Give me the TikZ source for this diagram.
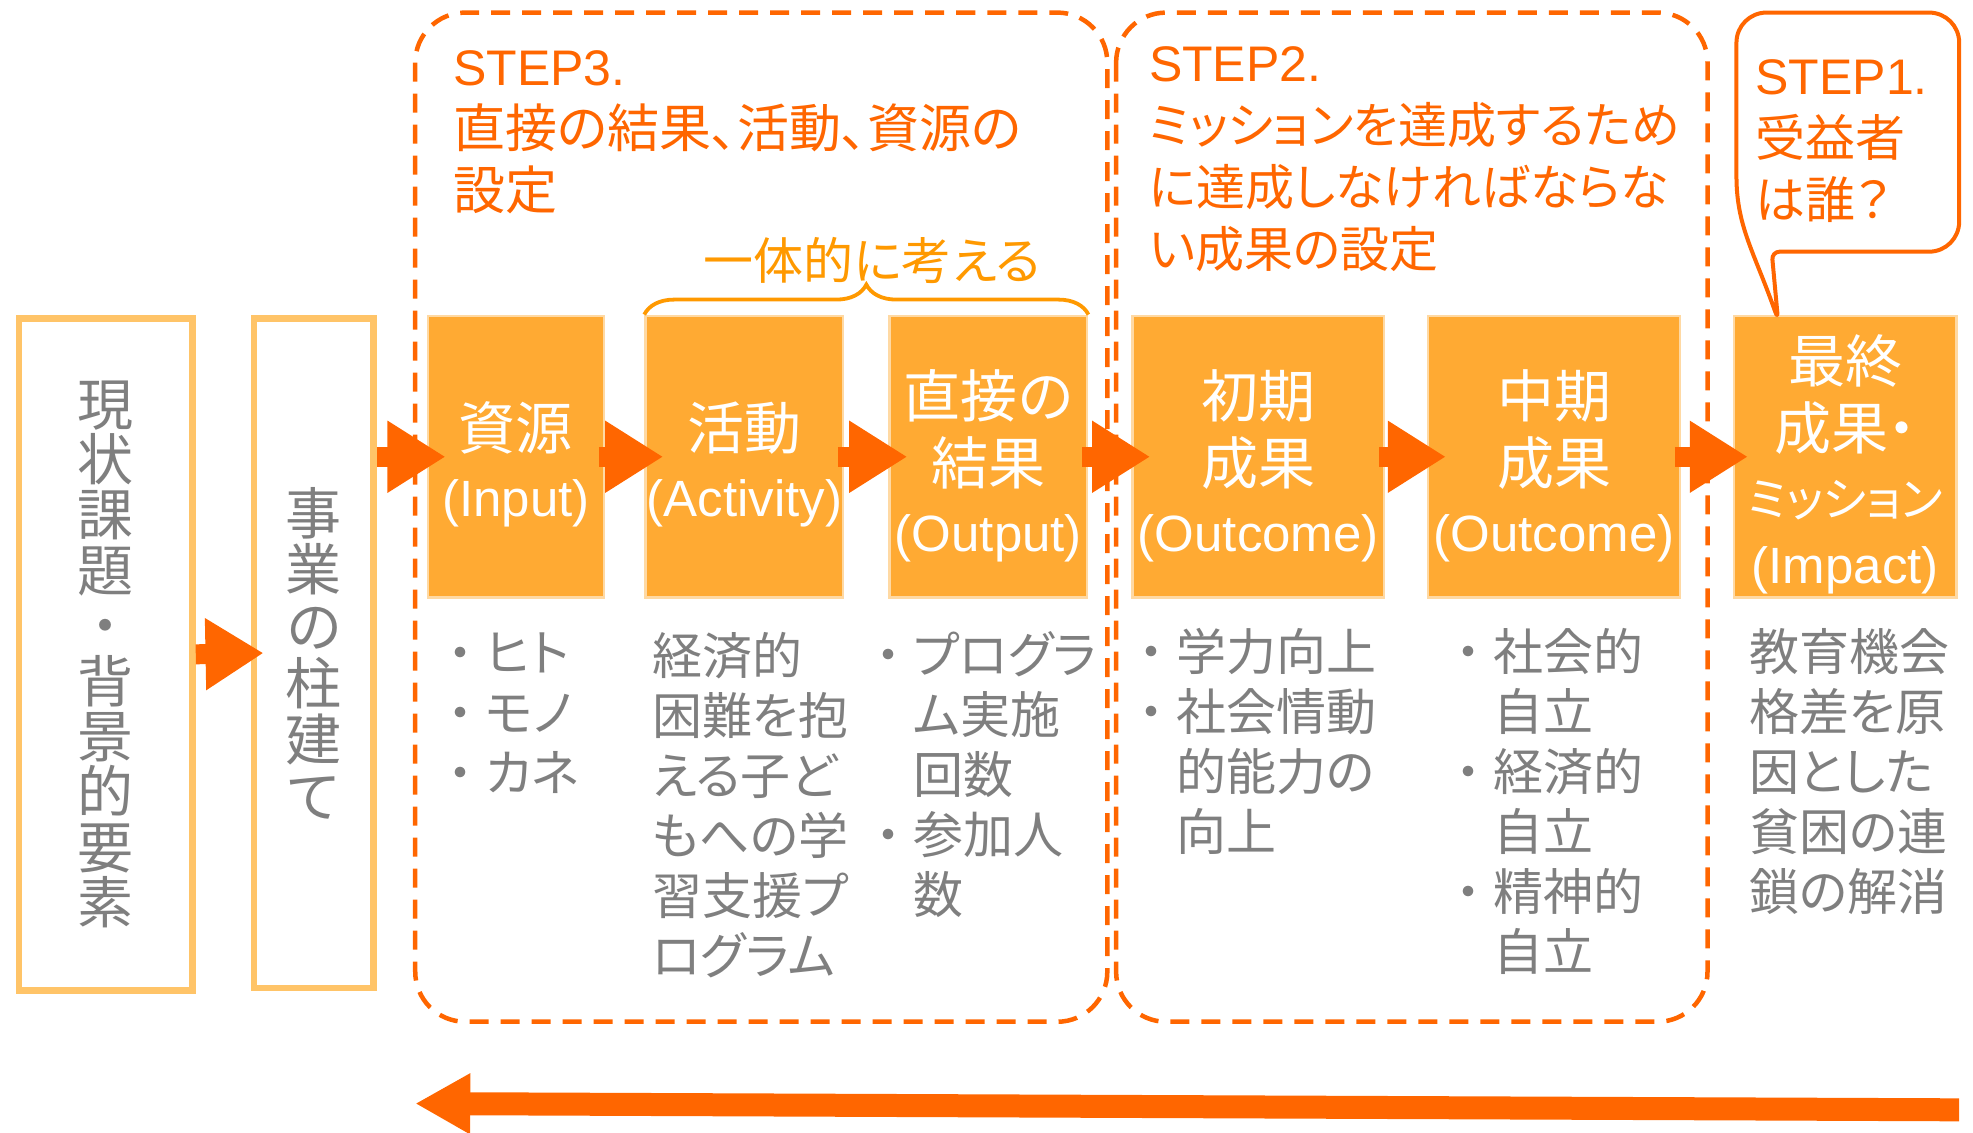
\documentclass[tikz,border=0pt]{standalone}
\usepackage{fontspec}
\setmainfont{Liberation Sans}
\newfontfamily\jp[RawFeature=+palt]{Noto Sans CJK JP}
\usetikzlibrary{arrows.meta,calc,fit,decorations.pathreplacing}
\definecolor{dor}{HTML}{FF6600}
\definecolor{lor}{HTML}{FF9900}
\definecolor{bfill}{HTML}{FFAA33}
\definecolor{bline}{HTML}{FFD9A3}
\definecolor{pale}{HTML}{FFC468}
\definecolor{gtx}{HTML}{7F7F7F}
\newcommand\mybul{\makebox[1em][c]{・}}
\newcommand\myind{\hspace*{1em}}
\newcommand\jb{\jp\fontsize{57}{67}\selectfont}
\newcommand\jt{\jp\fontsize{52}{62}\selectfont}
\newcommand\js{\jp\fontsize{49}{62}\selectfont}
\begin{document}
\begin{tikzpicture}[x=1.2583pt,y=-1.2583pt,
 obox/.style={fill=bfill,draw=bline,line width=2.5pt,inner sep=0pt},
 btext/.style={text=white,align=center,inner sep=0pt,font=\fontsize{51}{67}\selectfont},
 pbox/.style={draw=pale,line width=6.5pt,fill=white,inner sep=0pt},
 vtext/.style={text=gtx,align=center,inner sep=0pt},
 dbox/.style={draw=dor,line width=4.5pt,dash pattern=on 19pt off 12pt,rounded corners=50pt},
 barrow/.style={draw=dor,line width=20pt,-{Triangle[length=58pt,width=68pt]}},
 bigarrow/.style={draw=dor,line width=23pt,-{Triangle[length=55pt,width=57pt]}},
 gtext/.style={text=gtx,font=\jp\fontsize{50}{60}\selectfont,align=left,inner sep=0pt,anchor=north west},
 stext/.style={text=dor,font=\fontsize{50}{62}\selectfont,align=left,inner sep=0pt,anchor=north west},
 bub/.style={draw=dor,line width=4pt,line join=round},
 bracest/.style={draw=lor,line width=3.8pt,decorate,decoration={brace,amplitude=30pt}}]
\useasboundingbox (0,0) rectangle (1568,900);

% dashed step frames
\draw[dbox] (330,10) rectangle (880,812);
\draw[dbox] (887,10) rectangle (1357,812);

% left boxes
\node[pbox,fit={(15,253)(153,787)}] (cur) {};
\node[vtext,font=\jp\fontsize{56}{55.4}\selectfont] (curt) at (cur.center) {現\\状\\課\\題\\・\\背\\景\\的\\要\\素};
\node[pbox,fit={(202,253)(297,785)}] (pil) {};
\node[vtext,font=\jp\fontsize{56}{56.6}\selectfont] (pilt) at (pil.center) {事\\業\\の\\柱\\建\\て};

% orange boxes
\node[obox,fit={(340,251)(480,475)}] (in) {};
\node[obox,fit={(513,251)(670,475)}] (act) {};
\node[obox,fit={(707,251)(864,475)}] (out) {};
\node[obox,fit={(900,251)(1100,475)}] (oc1) {};
\node[obox,fit={(1135,251)(1335,475)}] (oc2) {};
\node[obox,fit={(1378,251)(1555,475)}] (imp) {};

\node[btext] (int) at ($(in.center)+(0,6)$) {{\jb 資源}\\(Input)};
\node[btext] (actt) at ($(act.center)+(0,6)$) {{\jb 活動}\\(Activity)};
\node[btext] (outt) at ($(out.center)+(0,7)$) {{\jb 直接の}\\{\jb 結果}\\(Output)};
\node[btext] (oc1t) at ($(oc1.center)+(0,7)$) {{\jb 初期}\\{\jb 成果}\\(Outcome)};
\node[btext] (oc2t) at ($(oc2.center)+(0,7)$) {{\jb 中期}\\{\jb 成果}\\(Outcome)};
\node[btext] (impt) at ($(imp.center)+(0,6)$) {{\jb 最終}\\{\jb 成果・}\\{\jp\fontsize{47}{60}\selectfont ミッション}\\(Impact)};

% arrows
\draw[barrow] (cur.east) -- ($(pil.west)+(10,0)$);
\draw[barrow] (pil.east |- in.west) -- ($(in.west)+(15,0)$);
\draw[barrow] ($(in.east)+(-5,0)$) -- ($(act.west)+(15,0)$);
\draw[barrow] ($(act.east)+(-5,0)$) -- ($(out.west)+(15,0)$);
\draw[barrow] ($(out.east)+(-5,0)$) -- ($(oc1.west)+(15,0)$);
\draw[barrow] ($(oc1.east)+(-5,0)$) -- ($(oc2.west)+(15,0)$);
\draw[barrow] ($(oc2.east)+(-5,0)$) -- ($(imp.west)+(12,0)$);

% brace
\draw[bracest] (act.north west) -- (out.north east);
\node[text=lor,font=\jp\fontsize{50}{52}\selectfont,inner sep=0pt] (ittai) at (693,207) {一体的に考える};

% speech bubble
\draw[bub] (1413,254) .. controls (1394,200) and (1380,180) .. (1380,140) [rounded corners=30pt] -- (1380,10) -- (1557,10) -- (1557,200) [rounded corners=8pt] -- (1408,200) -- cycle;

% step titles
\node[stext] (s3) at (360,40) {STEP3.\\{\jt 直接の結果、活動、資源の}\\{\jt 設定}};
\node[stext] (s2) at (913,37) {STEP2.\\{\js ミッションを達成するため}\\{\js に達成しなければならな}\\{\js い成果の設定}};
\node[stext] (s1) at (1395,47) {STEP1.\\{\jp 受益者}\\{\jp は誰？}};

% gray lists
\node[gtext] (l1) at (346,503) {\mybul ヒト\\\mybul モノ\\\mybul カネ};
\node[gtext] (l2) at (518,502) {経済的\\困難を抱\\える子ど\\もへの学\\習支援プ\\ログラム};
\node[gtext] (l3) at (686,502) {\mybul プログラ\\\myind ム実施\\\myind 回数\\\mybul 参加人\\\myind 数};
\node[gtext] (l4) at (895,499) {\mybul 学力向上\\\mybul 社会情動\\\myind 的能力の\\\myind 向上};
\node[gtext] (l5) at (1147,499) {\mybul 社会的\\\myind 自立\\\mybul 経済的\\\myind 自立\\\mybul 精神的\\\myind 自立};
\node[gtext] (l6) at (1390,499) {教育機会\\格差を原\\因とした\\貧困の連\\鎖の解消};

% bottom arrow
\coordinate (fbR) at (1557,882);
\coordinate (fbL) at (330,877);
\draw[bigarrow] (fbR) -- (fbL);
\end{tikzpicture}
\end{document}
